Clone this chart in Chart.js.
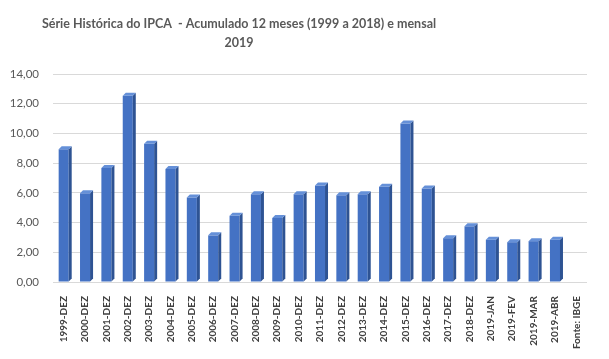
<!DOCTYPE html>
<html>
<head>
<meta charset="utf-8">
<script src="https://cdn.jsdelivr.net/npm/chart.js@4"></script>
<style>
  html, body { margin: 0; padding: 0; background: #fff; }
  #c { display: block; }
</style>
</head>
<body>
<canvas id="c" width="609" height="359"></canvas>
<script>
const categories = ['1999-DEZ', '2000-DEZ', '2001-DEZ', '2002-DEZ', '2003-DEZ', '2004-DEZ', '2005-DEZ',
  '2006-DEZ', '2007-DEZ', '2008-DEZ', '2009-DEZ', '2010-DEZ', '2011-DEZ', '2012-DEZ', '2013-DEZ',
  '2014-DEZ', '2015-DEZ', '2016-DEZ', '2017-DEZ', '2018-DEZ', '2019-JAN', '2019-FEV', '2019-MAR',
  '2019-ABR', 'Fonte: IBGE'];
const ipca = [8.94, 5.97, 7.67, 12.53, 9.30, 7.60, 5.69, 3.14, 4.46, 5.90, 4.31, 5.91, 6.50, 5.84,
  5.91, 6.41, 10.67, 6.29, 2.95, 3.75, 2.85, 2.68, 2.75, 2.85, null];
const yTicks = [0, 2, 4, 6, 8, 10, 12, 14];
const titleLines = ['Série Histórica do IPCA  - Acumulado 12 meses (1999 a 2018) e mensal', '2019'];

// title sits left of centre in the original, so draw it by hand
const titlePlugin = {
  id: 'leftTitle',
  afterDraw(chart) {
    const ctx = chart.ctx;
    ctx.save();
    ctx.fillStyle = '#595959';
    ctx.font = 'bold 12.5px Lato';
    ctx.textAlign = 'center';
    ctx.textBaseline = 'middle';
    ctx.fillText(titleLines[0], 239, 24);
    ctx.fillText(titleLines[1], 239, 43);
    ctx.restore();
  }
};

// fake 3d look: side and top faces on every bar
const bar3d = {
  id: 'bar3d',
  afterDatasetsDraw(chart) {
    const ctx = chart.ctx;
    const d = 3;
    const vals = chart.data.datasets[0].data;
    chart.getDatasetMeta(0).data.forEach((bar, i) => {
      if (vals[i] == null) return;
      const l = bar.x - bar.width / 2, r = bar.x + bar.width / 2;
      ctx.save();
      ctx.fillStyle = '#2E5393';
      ctx.beginPath();
      ctx.moveTo(r, bar.y);
      ctx.lineTo(r + d, bar.y - d);
      ctx.lineTo(r + d, bar.base - d);
      ctx.lineTo(r, bar.base);
      ctx.closePath();
      ctx.fill();
      ctx.fillStyle = '#6590D8';
      ctx.beginPath();
      ctx.moveTo(l, bar.y);
      ctx.lineTo(l + d, bar.y - d);
      ctx.lineTo(r + d, bar.y - d);
      ctx.lineTo(r, bar.y);
      ctx.closePath();
      ctx.fill();
      ctx.restore();
    });
  }
};

new Chart(document.getElementById('c'), {
  type: 'bar',
  data: {
    labels: categories,
    datasets: [{
      data: ipca,
      backgroundColor: '#4472C4',
      borderWidth: 0,
      barPercentage: 0.47,
      categoryPercentage: 1
    }]
  },
  options: {
    responsive: false,
    animation: false,
    layout: { padding: { left: 0, right: 22, top: 74, bottom: 0 } },
    plugins: {
      legend: { display: false },
      tooltip: { enabled: false }
    },
    scales: {
      x: {
        grid: { display: false },
        border: { display: false },
        afterFit: axis => { axis.height = 77; },
        ticks: {
          color: '#404040',
          font: { family: 'Lato', size: 10, weight: 'bold' },
          minRotation: 90,
          maxRotation: 90,
          autoSkip: false,
          padding: 6
        }
      },
      y: {
        min: 0,
        max: 14,
        afterBuildTicks: axis => { axis.ticks = yTicks.map(v => ({ value: v })); },
        afterFit: axis => { axis.width = 53; },
        grid: { color: '#D9D9D9', drawTicks: false },
        border: { display: false },
        ticks: {
          color: '#595959',
          font: { family: 'Lato', size: 11.5 },
          padding: 14,
          callback: v => v.toFixed(2).replace('.', ',')
        }
      }
    }
  },
  plugins: [bar3d, titlePlugin]
});
</script>
</body>
</html>
